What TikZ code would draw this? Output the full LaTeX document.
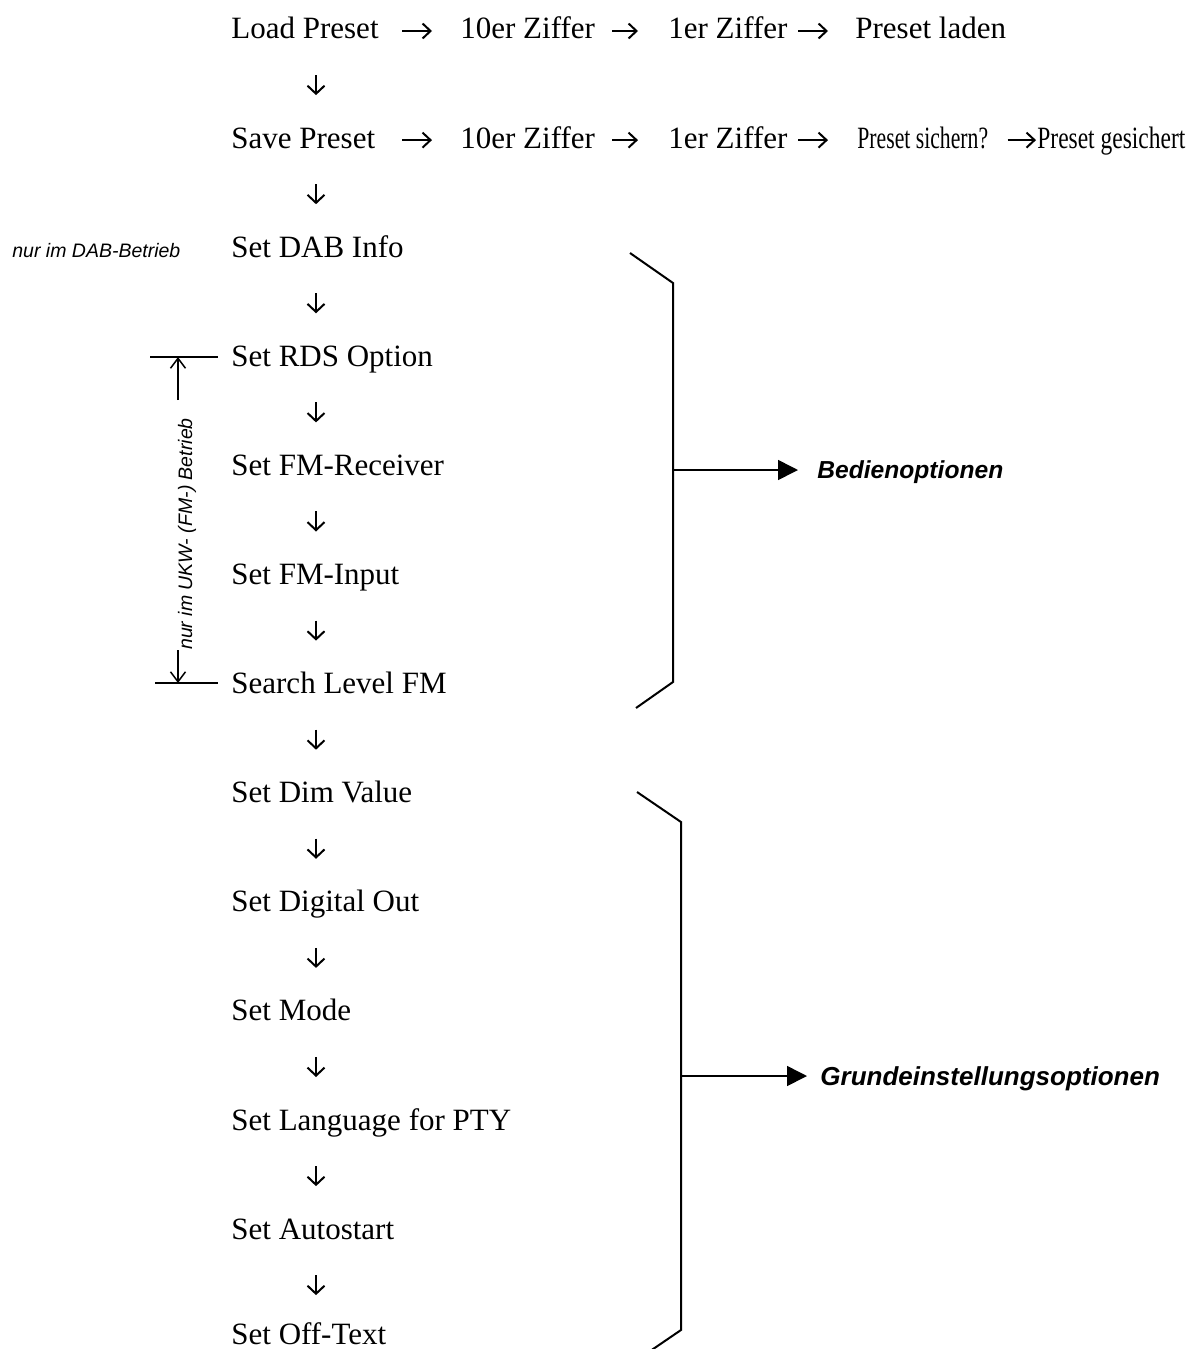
\documentclass[tikz,border=0pt]{standalone}
\usepackage{fontspec}
\usepackage{graphicx}
\setmainfont{Liberation Serif}
\newfontfamily\lsans{Liberation Sans}
\usetikzlibrary{arrows.meta}
\begin{document}
\begin{tikzpicture}[x=0.5pt,y=-0.5pt,
  item/.style={anchor=base west, inner sep=0pt, font=\fontsize{15.5}{18}\selectfont},
  harrow/.style={line width=1pt, -{Straight Barb[length=4pt,width=7.5pt]}},
  varrow/.style={line width=1pt, -{Straight Barb[length=4pt,width=8.5pt]}},
  note/.style={inner sep=0pt, font=\lsans\itshape\fontsize{9.75}{12}\selectfont},
  grouplabel/.style={anchor=base west, inner sep=0pt},
  bracketline/.style={line width=1pt},
  grouparrow/.style={line width=0.8pt, -{Triangle[length=10pt,width=10pt]}},
  fmline/.style={line width=0.75pt},
  fmarrow/.style={line width=0.75pt, -{Straight Barb[length=5pt,width=7.5pt]}}]
\clip (0,0) rectangle (1191,1349);

% --- row 1: Load Preset
\node[item] (load) at (231,39) {Load Preset};
\node[item] (lz10) at (460,39) {10er Ziffer};
\node[item] (lz1) at (668,39) {1er Ziffer};
\node[item] (lpl) at (855,39) {Preset laden};
\draw[harrow] ([shift={(-58,-8)}]lz10.base west) -- ([shift={(-28,-8)}]lz10.base west);
\draw[harrow] ([shift={(17,-8)}]lz10.base east) -- ([shift={(-30,-8)}]lz1.base west);
\draw[harrow] ([shift={(-57,-8)}]lpl.base west) -- ([shift={(-27,-8)}]lpl.base west);

% --- row 2: Save Preset
\node[item] (save) at (231,148.1) {Save Preset};
\node[item] (sz10) at (460,148.1) {10er Ziffer};
\node[item] (sz1) at (668,148.1) {1er Ziffer};
\node[item] (ssi) at (857,148.1) {\scalebox{0.70}[1]{Preset sichern?}};
\node[item] (sge) at (1037,148.1) {\scalebox{0.757}[1]{Preset gesichert}};
\draw[harrow] ([shift={(-58,-8)}]sz10.base west) -- ([shift={(-28,-8)}]sz10.base west);
\draw[harrow] ([shift={(17,-8)}]sz10.base east) -- ([shift={(-30,-8)}]sz1.base west);
\draw[harrow] ([shift={(-59,-8)}]ssi.base west) -- ([shift={(-29,-8)}]ssi.base west);
\draw[harrow] ([shift={(19,-8)}]ssi.base east) -- ([shift={(-1,-8)}]sge.base west);

% --- vertical chain
\node[item] (dab) at (231,257.2) {Set DAB Info};
\node[item] (rds) at (231,366.3) {Set RDS Option};
\node[item] (fmr) at (231,475.4) {Set FM-Receiver};
\node[item] (fmi) at (231,584.5) {Set FM-Input};
\node[item] (slf) at (231,693.6) {Search Level FM};
\node[item] (dim) at (231,802.7) {Set Dim Value};
\node[item] (dig) at (231,911.8) {Set Digital Out};
\node[item] (mode) at (231,1020.9) {Set Mode};
\node[item] (lang) at (231,1130.0) {Set Language for PTY};
\node[item] (auto) at (231,1239.1) {Set Autostart};
\node[item] (off) at (231,1344) {Set Off-Text};

\foreach \u/\v in {load/save, save/dab, dab/rds, rds/fmr, fmr/fmi, fmi/slf,
                   slf/dim, dim/dig, dig/mode, mode/lang, lang/auto}
  \draw[varrow] ([shift={(85,36)}]\u.base west) -- ([shift={(85,-53)}]\v.base west);
\draw[varrow] ([shift={(85,36)}]auto.base west) -- ([shift={(85,-48.9)}]off.base west);

% --- left notes
\node[note, anchor=base west] (dabnote) at (12,257) {nur im DAB-Betrieb};
\node[note, anchor=base, rotate=90] (fmnote) at (192,534) {nur im UKW- (FM-) Betrieb};
\coordinate (fmTopL) at (150,357);
\coordinate (fmTopR) at (218,357);
\coordinate (fmBotL) at (155,683);
\coordinate (fmBotR) at (218,683);
\coordinate (fmTop) at (178,357);
\coordinate (fmBot) at (178,683);
\coordinate (fmUpStart) at (178,400);
\coordinate (fmDnStart) at (178,650);
\draw[fmline] (fmTopL) -- (fmTopR);
\draw[fmline] (fmBotL) -- (fmBotR);
\draw[fmarrow] (fmUpStart) -- (fmTop);
\draw[fmarrow] (fmDnStart) -- (fmBot);

% --- bracket 1: Bedienoptionen
\coordinate (k1a) at (630,253);
\coordinate (k1b) at (673,283);
\coordinate (k1c) at (673,682);
\coordinate (k1d) at (636,708);
\draw[bracketline] (k1a) -- (k1b) -- (k1c) -- (k1d);
\coordinate (k1m) at (673,470);
\coordinate (k1t) at (798,470);
\draw[grouparrow] (k1m) -- (k1t);
\node[grouplabel, font=\lsans\bfseries\itshape\fontsize{12.3}{14}\selectfont] (bed) at (817,478) {Bedienoptionen};

% --- bracket 2: Grundeinstellungsoptionen
\coordinate (k2a) at (637,792);
\coordinate (k2b) at (681,822);
\coordinate (k2c) at (681,1330);
\coordinate (k2d) at (637,1360);
\draw[bracketline] (k2a) -- (k2b) -- (k2c) -- (k2d);
\coordinate (k2m) at (681,1076);
\coordinate (k2t) at (807,1076);
\draw[grouparrow] (k2m) -- (k2t);
\node[grouplabel, font=\lsans\bfseries\itshape\fontsize{13}{15}\selectfont] (grund) at (820,1085) {Grundeinstellungsoptionen};
\end{tikzpicture}
\end{document}
